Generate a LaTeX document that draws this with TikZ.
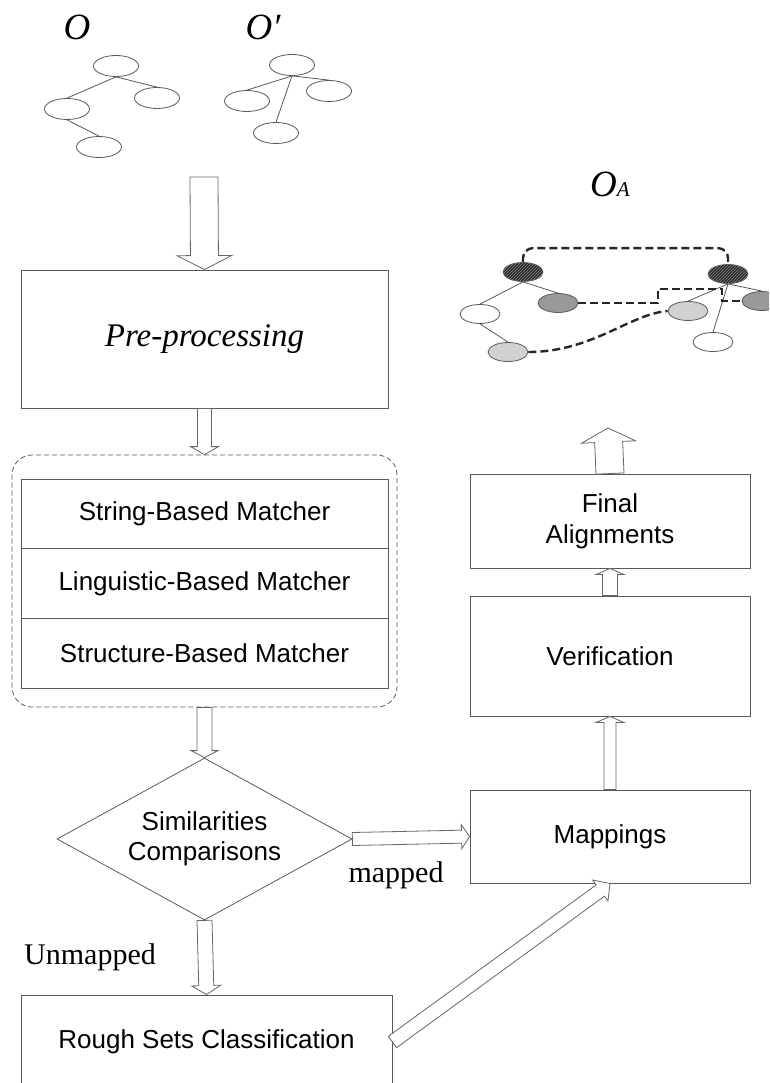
\documentclass[tikz,border=0pt]{standalone}
\usepackage{fontspec}
\setmainfont{Liberation Serif}
\setsansfont{Liberation Sans}
\usetikzlibrary{calc, positioning, shapes.geometric, patterns}

% hollow block arrow: from, to, half shaft, half head, head length
\newcommand{\fatarrow}[5]{%
  \path ($(#2)!#5!(#1)$) coordinate (hb);
  \draw[fat] ($(#1)!#3!90:(#2)$) -- ($(hb)!#3!90:(#2)$) -- ($(hb)!#4!90:(#2)$) -- (#2)
    -- ($(hb)!#4!-90:(#2)$) -- ($(hb)!#3!-90:(#2)$) -- ($(#1)!#3!-90:(#2)$) -- cycle;
}

\tikzset{
  box/.style={draw=black!65, line width=0.9pt, rectangle, inner sep=0pt, align=center,
    font=\sffamily\fontsize{26}{31}\selectfont},
  fat/.style={draw=black!60, line width=0.8pt, fill=white},
  onto/.style={draw=black!65, ellipse, line width=0.8pt, inner sep=0pt,
    minimum width=45pt, minimum height=21pt},
  onta/.style={onto, minimum width=40pt, minimum height=19pt},
  hatch/.style={fill=black!85, postaction={pattern=north east lines, pattern color=black!45}},
  link/.style={draw=black!85, line width=2.4pt, dash pattern=on 8pt off 4pt},
  title/.style={font=\itshape\fontsize{37}{42}\selectfont, inner sep=0pt},
  tag/.style={font=\fontsize{30}{34}\selectfont, inner sep=0pt},
}

\begin{document}
\begin{tikzpicture}[x=1pt, y=-1pt]
\useasboundingbox (0,0) rectangle (769,1083);
\clip (0,0) rectangle (769,1083);

% ontologies O and O'
\node[title] (O) at (77,27) {O};
\node[title] (Op) at (263,27) {O′};

\node[onto] (a1) at (116,66) {};
\node[onto] (a2) at (67,109) {};
\node[onto] (a3) at (157,98) {};
\node[onto] (a4) at (99,147) {};
\draw [black!65, line width=0.8pt] (a1.south) -- (a2.north);
\draw [black!65, line width=0.8pt] (a1.south) -- (a3.north);
\draw [black!65, line width=0.8pt] (a2.south) -- (a4.north);

\node[onto] (b1) at (292,65) {};
\node[onto] (b2) at (247,101) {};
\node[onto] (b3) at (329,91) {};
\node[onto] (b4) at (276,133) {};
\draw [black!65, line width=0.8pt] (b1.south) -- (b2.north);
\draw [black!65, line width=0.8pt] (b1.south) -- (b3.north);
\draw [black!65, line width=0.8pt] (b1.south) -- (b4.north);

% flow nodes
\node[box, font=\itshape\fontsize{33}{38}\selectfont, minimum width=367pt, minimum height=138pt] (pre) at (204.5,339) {Pre-processing};

\node[draw=black!65, line width=0.8pt, dash pattern=on 5pt off 3pt, rounded corners=20pt,
  minimum width=385pt, minimum height=252pt] (group) at (204.5,581) {};
\node[box, minimum width=367pt, minimum height=69.7pt] (string) at (204.5,513.8) {String-Based Matcher};
\node[box, minimum width=367pt, minimum height=69.7pt] (ling) at (204.5,583.5) {Linguistic-Based Matcher};
\node[box, minimum width=367pt, minimum height=69.7pt] (struct) at (204.5,653.2) {Structure-Based Matcher};

\node[draw=black!65, line width=0.8pt, diamond, aspect=1.82, inner sep=0pt, align=center,
  minimum width=295pt, minimum height=162pt, font=\sffamily\fontsize{26}{30}\selectfont]
  (sim) at (204.5,839) {Similarities\\Comparisons};

\node[box, minimum width=371pt, minimum height=94pt] (rough) at (206.5,1042) {Rough Sets Classification};

\node[box, minimum width=280pt, minimum height=93pt] (mappings) at (610,836.5) {Mappings};
\node[box, minimum width=280pt, minimum height=120pt] (verif) at (610,656) {Verification};
\node[box, minimum width=280pt, minimum height=94pt] (final) at (610,521) {Final\\Alignments};

\node[tag] (mapped) at (396,875) {mapped};
\node[tag] (unmapped) at (90,957) {Unmapped};

% arrows
\coordinate (start) at (204,177);
\coordinate (result) at (608,428);
\fatarrow{start}{pre.north}{14pt}{27.5pt}{14pt}
\fatarrow{pre.south}{group.north}{7pt}{14pt}{8pt}
\fatarrow{group.south}{sim.north}{7.5pt}{13.5pt}{7pt}
\fatarrow{sim.east}{mappings.west}{6.5pt}{12pt}{8pt}
\fatarrow{sim.south}{rough.north}{7.5pt}{14.5pt}{9pt}
\fatarrow{rough.east}{mappings.south}{7pt}{13pt}{12pt}
\fatarrow{mappings.north}{verif.south}{6pt}{14pt}{6pt}
\fatarrow{verif.north}{final.south}{7.5pt}{14pt}{6pt}
\fatarrow{final.north}{result}{14pt}{27pt}{14pt}

% alignment O_A
\node[title] (OA) at (610,184) {O{\fontsize{21}{21}\selectfont A}};

\node[onta, hatch] (lroot) at (523,272) {};
\node[onta, fill=white] (ll) at (480,314) {};
\node[onta, fill=black!40] (lr) at (558,303) {};
\node[onta, fill=black!18] (lb) at (508,352) {};
\node[onta, hatch] (rroot) at (728,274) {};
\node[onta, fill=black!18] (rl) at (688,311) {};
\node[onta, fill=black!40] (rr) at (762,301) {};
\node[onta, fill=white] (rb) at (713,342) {};
\draw [black!65, line width=0.8pt] (lroot.south) -- (ll.north);
\draw [black!65, line width=0.8pt] (lroot.south) -- (lr.north);
\draw [black!65, line width=0.8pt] (ll.south) -- (lb.north);
\draw [black!65, line width=0.8pt] (rroot.south) -- (rl.north);
\draw [black!65, line width=0.8pt] (rroot.south) -- (rr.north);
\draw [black!65, line width=0.8pt] (rroot.south) -- (rb.north);

\draw [link, rounded corners=10pt] (lroot.north) |- ($(rroot.north)+(0,-16)$) -- (rroot.north);
\draw [link] (lr.east) -| (658,289) -| (722,301) -- (rr.west);
\draw [link] (lb.east) .. controls (592,352) and (630,314) .. (rl.west);
\end{tikzpicture}
\end{document}
